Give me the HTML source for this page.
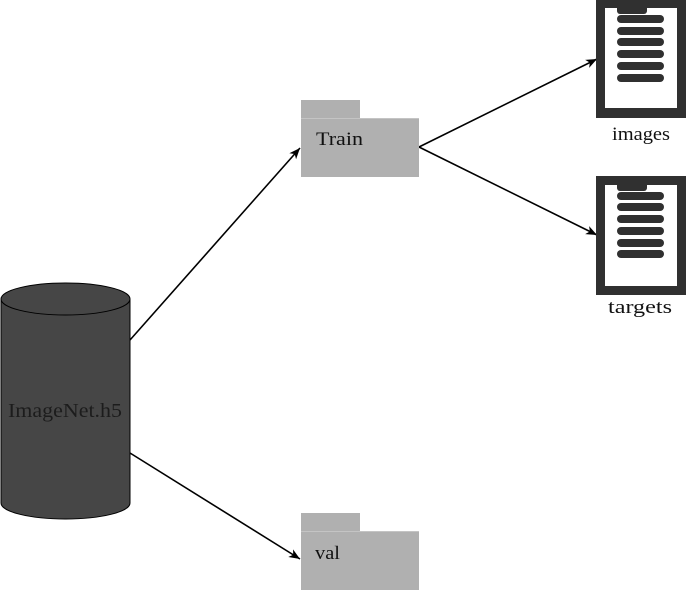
<!DOCTYPE html>
<html><head><meta charset="utf-8"><style>
html,body{margin:0;padding:0;background:#fff;}
svg{display:block;}
text{font-family:"Liberation Serif",serif;}
</style></head><body>
<svg width="686" height="591" viewBox="0 0 686 591" xmlns="http://www.w3.org/2000/svg">
<defs>
<marker id="ah" markerUnits="userSpaceOnUse" markerWidth="14" markerHeight="12" viewBox="-12 -6 14 12" refX="0" refY="0" orient="auto">
<path d="M0,0 L-11,-4.5 L-8,0 L-11,4.5 Z" fill="#000"/>
</marker>
</defs>
<!-- connectors -->
<g stroke="#000" stroke-width="1.6" fill="none">
<line x1="130" y1="340" x2="300" y2="148" marker-end="url(#ah)"/>
<line x1="130" y1="453" x2="300" y2="559" marker-end="url(#ah)"/>
<line x1="419" y1="147" x2="597" y2="59" marker-end="url(#ah)"/>
<line x1="419" y1="147" x2="597" y2="235" marker-end="url(#ah)"/>
</g>
<!-- cylinder -->
<path d="M1,299 L1,503 A64.5,16 0 0 0 130,503 L130,299 Z" fill="#464646" stroke="#000" stroke-width="1"/>
<ellipse cx="65.5" cy="299" rx="64.5" ry="16" fill="#464646" stroke="#000" stroke-width="1"/>
<text x="8" y="417" font-size="20" fill="#1c1c1c" textLength="114" lengthAdjust="spacingAndGlyphs">ImageNet.h5</text>
<!-- Train folder -->
<rect x="301" y="100" width="59" height="19" fill="#b0b0b0"/>
<rect x="301" y="118" width="118" height="59" fill="#b0b0b0"/>
<line x1="301" y1="118.5" x2="419" y2="118.5" stroke="#c4c4c4" stroke-width="1"/>
<text x="316" y="145" font-size="19" fill="#111" textLength="47" lengthAdjust="spacingAndGlyphs">Train</text>
<!-- val folder -->
<rect x="301" y="513" width="59" height="19" fill="#b0b0b0"/>
<rect x="301" y="531" width="118" height="59" fill="#b0b0b0"/>
<line x1="301" y1="531.5" x2="419" y2="531.5" stroke="#c4c4c4" stroke-width="1"/>
<text x="315" y="559" font-size="19" fill="#111" textLength="25" lengthAdjust="spacingAndGlyphs">val</text>
<!-- images icon -->
<g fill="#303030">
<rect x="596" y="-1" width="90" height="119"/>
<rect x="605" y="8" width="72" height="100" fill="#fff"/>
<path d="M617,8 H647 V11 A3,3 0 0 1 644,14 H620 A3,3 0 0 1 617,11 Z"/>
<rect x="617" y="15" width="47" height="8" rx="4"/>
<rect x="617" y="27" width="47" height="8" rx="4"/>
<rect x="617" y="38" width="47" height="8" rx="4"/>
<rect x="617" y="50" width="47" height="8" rx="4"/>
<rect x="617" y="62" width="47" height="8" rx="4"/>
<rect x="617" y="74" width="47" height="8" rx="4"/>
</g>
<text x="612" y="140" font-size="19" fill="#111" textLength="58" lengthAdjust="spacingAndGlyphs">images</text>
<!-- targets icon -->
<g fill="#303030">
<rect x="596" y="176" width="90" height="119"/>
<rect x="605" y="185" width="72" height="101" fill="#fff"/>
<path d="M617,185 H647 V188 A3,3 0 0 1 644,191 H620 A3,3 0 0 1 617,188 Z"/>
<rect x="617" y="192" width="47" height="8" rx="4"/>
<rect x="617" y="203" width="47" height="8" rx="4"/>
<rect x="617" y="215" width="47" height="8" rx="4"/>
<rect x="617" y="227" width="47" height="8" rx="4"/>
<rect x="617" y="239" width="47" height="8" rx="4"/>
<rect x="617" y="250" width="47" height="8" rx="4"/>
</g>
<text x="608" y="313" font-size="19" fill="#111" textLength="64" lengthAdjust="spacingAndGlyphs">targets</text>
</svg>
</body></html>
